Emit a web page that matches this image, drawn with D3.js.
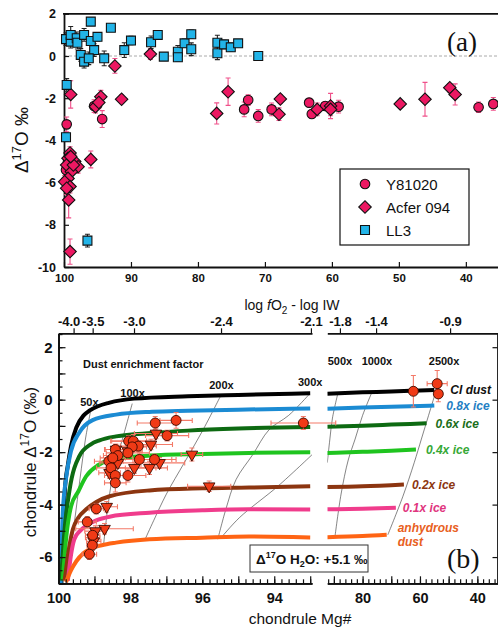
<!DOCTYPE html>
<html>
<head>
<meta charset="utf-8">
<script src="https://cdn.jsdelivr.net/npm/d3@7"></script>
<style>
body { margin: 0; background: #fff; }
svg { display: block; font-family: "Liberation Sans", Arial, sans-serif; }
</style>
</head>
<body>
<svg id="chart" width="498" height="628"></svg>
<script>
// ---------- panel (a): [Mg#, D17O, err]
const y81020 = [
  [99.6,-3.24,0.35],[95.5,-2.37,0.3],[94.3,-2.99,0.4],[73.1,-2.53,0.35],[72.5,-2.09,0.25],
  [71.0,-2.84,0.3],[69.0,-2.53,0.3],[63.4,-2.21,0.2],[63.0,-2.75,0.2],[61.0,-2.37,0.2],
  [59.0,-2.4,0.3],[38.1,-2.43,0.25],[35.9,-2.27,0.3],[99.7,-5.4,0.3],[99.4,-5.0,0.3]
];
const acfer094 = [
  [99.0,-1.82,0.65],[92.4,-0.47,0.35],[94.5,-1.93,0.3],[95.3,-2.4,0.3],[94.8,-2.2,0.3],
  [91.4,-2.05,0.2],[87.1,0.09,0.25],[77.2,-2.72,0.5],[75.5,-1.69,0.65],[67.7,-2.04,0.2],
  [67.9,-2.76,0.3],[62.2,-2.53,0.3],[60.2,-2.37,0.6],[60.2,-2.53,0.3],[49.8,-2.27,0.15],
  [46.1,-2.05,0.8],[42.4,-1.5,0.2],[41.6,-1.82,0.5],
  [99.1,-4.6,0.3],[99.4,-4.85,0.3],[98.4,-5.0,0.3],[97.9,-5.25,0.3],[99.6,-5.17,0.3],
  [98.9,-5.48,0.3],[99.4,-5.8,0.3],[99.9,-5.96,0.3],[99.1,-6.19,0.3],[99.6,-6.27,0.3],
  [99.3,-6.82,0.85],[96.0,-4.9,0.4],[99.1,-9.27,0.6],[98.6,-5.17,0.3],[99.0,-4.77,0.3]
];
const ll3 = [
  [99.7,0.8,0.3],[99.0,0.68,0.3],[99.0,1.0,0.4],[98.1,0.84,0.3],[98.0,0.63,0.3],[97.0,1.0,0.3],
  [96.0,1.63,0.15],[96.0,0.71,0.2],[95.5,0.28,0.3],[95.0,0.91,0.2],[97.5,0.05,0.3],[97.0,-0.27,0.3],
  [96.3,-0.11,0.3],[94.0,-0.11,0.35],[93.0,1.34,0.15],[91.0,0.28,0.35],[90.0,0.73,0.2],[87.0,0.65,0.3],
  [86.0,1.0,0.2],[85.1,-0.03,0.15],[83.0,0.2,0.3],[83.0,-0.06,0.2],[82.0,0.6,0.2],[81.0,1.03,0.2],
  [81.0,0.32,0.3],[77.1,0.63,0.35],[77.1,0.13,0.3],[76.1,0.55,0.2],[75.1,0.41,0.2],[74.0,0.6,0.15],
  [71.0,0.0,0.15],[99.6,-1.37,0.3],[99.7,-3.85,0.2],[96.5,-8.75,0.3]
];
const xTicksA = [100, 90, 80, 70, 60, 50, 40];
const yTicksA = [2, 0, -2, -4, -6, -8, -10];
const legendNames = ["Y81020", "Acfer 094", "LL3"];

// ---------- panel (b): chondrules [Mg#, D17O, xerr, yerr]
const chondCircles = [
  [97.31,-0.89,0.5,0.25],[96.73,-0.79,0.45,0.3],[96.98,-1.37,0.6,0.2],[98.05,-1.58,0.5,0.2],
  [97.92,-1.58,0.6,0.25],[97.78,-1.77,0.5,0.2],[97.95,-1.8,0.4,0.2],[98.42,-1.9,0.3,0.2],
  [98.07,-2.03,0.6,0.25],[98.35,-2.13,0.4,0.2],[98.6,-2.35,0.4,0.2],[98.49,-2.22,0.35,0.2],
  [97.75,-2.28,0.9,0.25],[97.33,-2.28,0.6,0.2],[98.54,-2.6,0.4,0.2],[98.42,-2.89,0.3,0.25],
  [98.07,-2.89,0.5,0.25],[98.42,-3.17,0.3,0.35],[98.95,-4.16,0.2,0.2],[99.2,-4.66,0.25,0.2],
  [99.05,-5.17,0.2,0.2],[99.06,-5.55,0.15,0.2],[99.14,-5.89,0.2,0.2],[93.19,-0.89,0.9,0.25]
];
const chondCirclesR = [[62.3,0.32,0,0.6],[54.0,0.61,3.5,0.5],[53.6,0.22,0,0.3]];
const chondTriangles = [
  [97.29,-1.29,0.6,0.2],[97.43,-1.71,0.6,0.2],[96.29,-2.09,0.3,0.25],[97.19,-2.41,0.7,0.2],
  [97.47,-2.6,0.5,0.25],[97.89,-2.6,0.6,0.2],[98.58,-2.79,0.3,0.2],[98.4,-1.9,0.3,0.2],
  [98.07,-1.96,0.4,0.2],[98.35,-2.41,0.5,0.2],[98.66,-4.08,0.3,0.2],[98.72,-4.92,0.8,0.2],
  [98.97,-5.01,0.3,0.2],[99.05,-5.26,0.2,0.2],[95.81,-3.3,0.6,0.2],[99.02,-5.4,0.2,0.2]
];

// model curves, left (Mg# 100-93) and right (Mg# 92-33) parts
const ciDustL = [[99.92,-7],[99.86,-4.8],[99.82,-3.4],[99.74,-2.5],[99.65,-1.75],[99.5,-1.05],[99.3,-0.6],
  [99.14,-0.42],[98.9,-0.25],[98.6,-0.12],[97.9,0.04],[96.4,0.13],[95,0.18],[93,0.24]];
const ciDustR = [[92.3,0.23],[80,0.28],[70,0.31],[60,0.35],[55,0.37]];
const ice08L = [[99.94,-7],[99.88,-4.3],[99.79,-3.0],[99.65,-1.95],[99.42,-1.25],[99.05,-0.78],[98.4,-0.57],
  [97.4,-0.46],[96.4,-0.42],[95,-0.38],[93,-0.34]];
const ice08R = [[92.3,-0.35],[80,-0.3],[70,-0.27],[60,-0.24],[55,-0.22]];
const ice06L = [[99.93,-6.9],[99.83,-4.94],[99.69,-3.42],[99.42,-2.15],[99.1,-1.7],[98.86,-1.55],[98.4,-1.4],
  [97.4,-1.27],[96.4,-1.18],[95,-1.1],[93,-1.04]];
const ice06R = [[92.3,-1.03],[80,-0.99],[70,-0.95],[57.7,-0.9]];
const ice04L = [[99.88,-6.84],[99.79,-5.32],[99.65,-4.06],[99.45,-3.5],[99.23,-2.92],[98.9,-2.5],[98.58,-2.3],
  [97.47,-2.13],[96,-2.07],[94.7,-2.03],[93,-2.0]];
const ice04R = [[92.3,-2.03],[80,-1.99],[70,-1.95],[61.4,-1.9]];
const ice02L = [[99.83,-6.9],[99.7,-5.6],[99.6,-4.94],[99.45,-4.5],[99.23,-4.18],[98.95,-3.9],[98.58,-3.68],
  [97.47,-3.46],[96,-3.38],[94.7,-3.35],[93,-3.3]];
const ice02R = [[92.3,-3.33],[80,-3.3],[65.6,-3.23]];
const ice01L = [[99.74,-6.9],[99.65,-5.9],[99.56,-5.32],[99.4,-5.0],[99.23,-4.8],[98.95,-4.6],[98.58,-4.46],
  [97.47,-4.31],[96,-4.22],[94.7,-4.18],[93,-4.19]];
const ice01R = [[92.3,-4.18],[80,-4.16],[68.4,-4.12]];
const anhydL = [[99.79,-6.95],[99.65,-6.5],[99.5,-6.15],[99.3,-5.85],[99.14,-5.7],[98.8,-5.55],[98.4,-5.45],
  [97.47,-5.32],[96,-5.26],[94.7,-5.22],[93,-5.25]];
const anhydR = [[92.3,-5.24],[80,-5.2],[71.6,-5.15]];

// dust enrichment iso-lines
const iso50 = [[99.1,-0.38],[99.25,-1.5],[99.4,-3.0],[99.55,-4.6],[99.68,-5.9],[99.75,-7]];
const iso100 = [[97.95,-0.15],[98.2,-1.4],[98.45,-2.6],[98.62,-4.0],[98.75,-5.6]];
const iso200 = [[95.5,0.12],[96.0,-1.2],[96.5,-2.4],[97.0,-3.6],[97.35,-4.6],[97.6,-5.35]];
const iso300 = [[93.03,0.2],[93.6,-0.6],[94.14,-1.14],[94.6,-2.1],[95.06,-3.04],[95.35,-4.2],[95.57,-5.32]];
const iso500L = [[92.95,-2.1],[93.9,-3.3],[94.97,-4.5],[95.5,-5.3]];
const iso500R = [[88.6,0.25],[90.5,-0.7],[91.4,-1.5],[92.3,-2.4]];
const iso1000 = [[76.8,0.27],[80,-0.6],[82.6,-1.5],[85,-2.3],[87.5,-3.6],[89.6,-5.2]];
const iso2500 = [[54.5,0.3],[57,-0.6],[59.5,-1.5],[62,-2.4],[66,-3.7],[71.2,-5.15]];
const isoLabels = [["50x",99.14,-0.08,"L"],["100x",97.94,0.27,"L"],["200x",95.47,0.57,"L"],
  ["300x",93.0,0.68,"L"],["500x",87.9,1.48,"R"],["1000x",75.0,1.48,"R"],["2500x",51.6,1.48,"R"]];

const fo2LabL = ["-4.0", "-3.5", "-3.0", "-2.4", "-2.1"];
const fo2MgL = [99.58, 99.05, 97.9, 95.48, 92.98];
const fo2LabR = ["-1.8", "-1.4", "-0.9"];
const fo2MgR = [87.9, 75.3, 49.5];
const xLabelsBL = [100, 98, 96, 94];
const xLabelsBR = [80, 60, 40];
const yLabelsB = [2, 0, -2, -4, -6];

const svg = d3.select("#chart");

function styleAxis(g, fs, bold) {
  g.select(".domain").attr("stroke", "#111").attr("stroke-width", 1.8);
  g.selectAll(".tick line").attr("stroke", "#111").attr("stroke-width", 1.2);
  g.selectAll(".tick text").attr("fill", "#111").style("font-size", fs + "px")
    .style("font-weight", bold ? "bold" : "normal").style("font-family", "'Liberation Sans', Arial, sans-serif");
}

function vBars(g, data, x, y, color, cap) {
  g.selectAll(null).data(data.filter(d => d[2] > 0)).join("path")
    .attr("d", d => {
      const cx = x(d[0]), y1 = y(d[1] + d[2]), y2 = y(d[1] - d[2]);
      return `M${cx - cap},${y1}h${2 * cap}M${cx},${y1}V${y2}M${cx - cap},${y2}h${2 * cap}`;
    })
    .attr("stroke", color).attr("stroke-width", 1.1).attr("fill", "none");
}

// ================= panel (a)
const xa = d3.scaleLinear().domain([100, 35.2]).range([64, 498]);
const ya = d3.scaleLinear().domain([-10, 2]).range([267, 13.8]);
const ga = svg.append("g");

ga.append("line").attr("x1", xa(100)).attr("x2", 498).attr("y1", ya(0)).attr("y2", ya(0))
  .attr("stroke", "#aaa").attr("stroke-width", 1).attr("stroke-dasharray", "3,2");
ga.append("line").attr("x1", xa(100) - 1).attr("x2", 498).attr("y1", ya(2)).attr("y2", ya(2))
  .attr("stroke", "#111").attr("stroke-width", 1.8);

const axA = ga.append("g").attr("transform", `translate(0,${ya(-10)})`)
  .call(d3.axisBottom(xa).tickValues(xTicksA).tickSize(-5).tickSizeOuter(0).tickPadding(7).tickFormat(d => d));
styleAxis(axA, 11.5, true);
const ayA = ga.append("g").attr("transform", `translate(${xa(100)},0)`)
  .call(d3.axisLeft(ya).tickValues(yTicksA).tickSize(-5).tickSizeOuter(0).tickPadding(8).tickFormat(d => String(d)));
styleAxis(ayA, 12.5, true);

const pink = "#ec1862", cyan = "#22b4e8";
vBars(ga, y81020, xa, ya, "#f0508a", 2.5);
vBars(ga, acfer094, xa, ya, "#f0508a", 2.5);
vBars(ga, ll3, xa, ya, "#222", 2.5);

const symCircle = d3.symbol().type(d3.symbolCircle).size(72);
const symSquare = d3.symbol().type(d3.symbolSquare).size(80);
const symDiamond = d3.symbol().type(d3.symbolSquare).size(78);

ga.selectAll(null).data(y81020).join("path").attr("d", symCircle)
  .attr("transform", d => `translate(${xa(d[0])},${ya(d[1])})`)
  .attr("fill", pink).attr("stroke", "#111").attr("stroke-width", 1.1);
ga.selectAll(null).data(acfer094).join("path").attr("d", symDiamond)
  .attr("transform", d => `translate(${xa(d[0])},${ya(d[1])}) rotate(45)`)
  .attr("fill", pink).attr("stroke", "#111").attr("stroke-width", 1.1);
ga.selectAll(null).data(ll3).join("path").attr("d", symSquare)
  .attr("transform", d => `translate(${xa(d[0])},${ya(d[1])})`)
  .attr("fill", cyan).attr("stroke", "#111").attr("stroke-width", 1.1);

ga.append("text").attr("transform", "translate(28,140) rotate(-90)").attr("text-anchor", "middle")
  .style("font-size", "19px").attr("fill", "#111")
  .call(t => {
    t.append("tspan").text("\u0394");
    t.append("tspan").attr("dy", -7).style("font-size", "13px").text("17");
    t.append("tspan").attr("dy", 7).text("O \u2030");
  });
ga.append("text").attr("x", 447).attr("y", 51).style("font-family", "'Liberation Serif', serif")
  .style("font-size", "27px").attr("fill", "#111").text("(a)");

// legend
const leg = ga.append("g");
leg.append("rect").attr("x", 340).attr("y", 169).attr("width", 129).attr("height", 76)
  .attr("fill", "#fff").attr("stroke", "#111").attr("stroke-width", 1.2);
const legSyms = [[symCircle, pink, 0], [symDiamond, pink, 45], [symSquare, cyan, 0]];
legendNames.forEach((n, i) => {
  const yy = 184 + i * 23;
  leg.append("path").attr("d", legSyms[i][0]).attr("transform", `translate(365,${yy}) rotate(${legSyms[i][2]})`)
    .attr("fill", legSyms[i][1]).attr("stroke", "#111").attr("stroke-width", 1.1);
  leg.append("text").attr("x", 386).attr("y", yy + 5.5).style("font-size", "15px").attr("fill", "#111").text(n);
});

// ================= panel (b)
const xbL = d3.scaleLinear().domain([100, 92.95]).range([58.5, 312]);
const xbR = d3.scaleLinear().domain([92.3, 32.8]).range([327.3, 498]);
const yb = d3.scaleLinear().domain([-7, 2.53]).range([583.3, 333.3]);
const gb = svg.append("g");

const defs = svg.append("defs");
defs.append("clipPath").attr("id", "clipL").append("rect")
  .attr("x", xbL(100)).attr("y", yb(2.53)).attr("width", xbL(92.95) - xbL(100)).attr("height", yb(-7) - yb(2.53));
defs.append("clipPath").attr("id", "clipR").append("rect")
  .attr("x", xbR(92.3)).attr("y", yb(2.53)).attr("width", xbR(32.8) - xbR(92.3)).attr("height", yb(-7) - yb(2.53));

const gL = gb.append("g").attr("clip-path", "url(#clipL)");
const gR = gb.append("g").attr("clip-path", "url(#clipR)");

// iso-lines
const isoLine = x => d3.line().x(d => x(d[0])).y(d => yb(d[1])).curve(d3.curveCatmullRom);
[iso50, iso100, iso200, iso300, iso500L].forEach(a =>
  gL.append("path").attr("d", isoLine(xbL)(a)).attr("fill", "none").attr("stroke", "#333").attr("stroke-width", 0.6));
[iso500R, iso1000, iso2500].forEach(a =>
  gR.append("path").attr("d", isoLine(xbR)(a)).attr("fill", "none").attr("stroke", "#333").attr("stroke-width", 0.6));

const curves = [
  { name: "CI dust", color: "#000", tcolor: "#111", L: ciDustL, R: ciDustR, dx: 16 },
  { name: "0.8x ice", color: "#1b8bd3", tcolor: "#1f7fc4", L: ice08L, R: ice08R, dx: 12 },
  { name: "0.6x ice", color: "#0d6a12", tcolor: "#1a6e1a", L: ice06L, R: ice06R, dx: 9 },
  { name: "0.4x ice", color: "#1fc41f", tcolor: "#36a836", L: ice04L, R: ice04R, dx: 10 },
  { name: "0.2x ice", color: "#8c3510", tcolor: "#8c3510", L: ice02L, R: ice02R, dx: 8 },
  { name: "0.1x ice", color: "#f03c8c", tcolor: "#e0357e", L: ice01L, R: ice01R, dx: 7 },
  { name: "anhydrous", color: "#ff6414", tcolor: "#e8601e", L: anhydL, R: anhydR, dx: 11 }
];
const cLine = x => d3.line().x(d => x(d[0])).y(d => yb(d[1])).curve(d3.curveMonotoneX);
curves.forEach(c => {
  gL.append("path").attr("d", cLine(xbL)(c.L)).attr("fill", "none").attr("stroke", c.color).attr("stroke-width", 4);
  gR.append("path").attr("d", cLine(xbR)(c.R)).attr("fill", "none").attr("stroke", c.color).attr("stroke-width", 4);
  const e = c.R[c.R.length - 1];
  const t = gb.append("text").attr("x", xbR(e[0]) + c.dx).attr("y", yb(e[1]) + 4.5)
    .style("font-size", "12px").style("font-weight", "bold").style("font-style", "italic").attr("fill", c.tcolor);
  if (c.name === "anhydrous") {
    t.attr("y", yb(e[1]) - 3).text("anhydrous");
    gb.append("text").attr("x", xbR(e[0]) + c.dx).attr("y", yb(e[1]) + 11)
      .style("font-size", "12px").style("font-weight", "bold").style("font-style", "italic").attr("fill", c.tcolor).text("dust");
  } else t.text(c.name);
});

// iso-line labels
gb.selectAll(null).data(isoLabels).join("text")
  .attr("x", d => (d[3] === "L" ? xbL : xbR)(d[1])).attr("y", d => yb(d[2]) + 4)
  .attr("text-anchor", "middle").style("font-size", "11px").style("font-weight", "bold").attr("fill", "#111")
  .text(d => d[0]);
gb.append("text").attr("x", 83).attr("y", 368).style("font-size", "11px").style("font-weight", "bold")
  .attr("fill", "#111").text("Dust enrichment factor");

// chondrule error bars
const errCol = "#f37a68";
function xyBars(g, data, x, cap) {
  g.selectAll(null).data(data).join("path")
    .attr("d", d => {
      const cx = x(d[0]), cy = yb(d[1]);
      let p = "";
      if (d[2] > 0) {
        const x1 = x(d[0] + d[2]), x2 = x(d[0] - d[2]);
        p += `M${x1},${cy}H${x2}M${x1},${cy - cap}v${2 * cap}M${x2},${cy - cap}v${2 * cap}`;
      }
      if (d[3] > 0) {
        const y1 = yb(d[1] + d[3]), y2 = yb(d[1] - d[3]);
        p += `M${cx},${y1}V${y2}M${cx - cap},${y1}h${2 * cap}M${cx - cap},${y2}h${2 * cap}`;
      }
      return p;
    })
    .attr("stroke", errCol).attr("stroke-width", 1.1).attr("fill", "none");
}
xyBars(gb, chondCircles.concat(chondTriangles), xbL, 2.5);
xyBars(gb, chondCirclesR, xbR, 2.5);

const red = "#f03a16";
const symC = d3.symbol().type(d3.symbolCircle).size(78);
const symT = d3.symbol().type(d3.symbolTriangle).size(58);
gb.selectAll(null).data(chondTriangles).join("path").attr("d", symT)
  .attr("transform", d => `translate(${xbL(d[0])},${yb(d[1])}) rotate(180)`)
  .attr("fill", red).attr("stroke", "#3a0a00").attr("stroke-width", 0.9);
gb.selectAll(null).data(chondCircles).join("path").attr("d", symC)
  .attr("transform", d => `translate(${xbL(d[0])},${yb(d[1])})`)
  .attr("fill", red).attr("stroke", "#3a0a00").attr("stroke-width", 0.9);
gb.selectAll(null).data(chondCirclesR).join("path").attr("d", symC)
  .attr("transform", d => `translate(${xbR(d[0])},${yb(d[1])})`)
  .attr("fill", red).attr("stroke", "#3a0a00").attr("stroke-width", 0.9);

// axes panel b
const y0 = yb(-7), yTop = yb(2.53);
function bottomAxis(x, minor, major, labels) {
  const g1 = gb.append("g").attr("transform", `translate(0,${y0})`)
    .call(d3.axisBottom(x).tickValues(minor).tickSize(-4).tickSizeOuter(0).tickFormat(""));
  styleAxis(g1, 14, true);
  const g2 = gb.append("g").attr("transform", `translate(0,${y0})`)
    .call(d3.axisBottom(x).tickValues(major).tickSize(-7).tickSizeOuter(0).tickPadding(9)
      .tickFormat(d => labels.includes(d) ? String(d) : ""));
  styleAxis(g2, 14.5, true);
}
bottomAxis(xbL, d3.range(100, 92.9, -0.2), d3.range(100, 92.9, -1), xLabelsBL);
bottomAxis(xbR, d3.range(92, 33, -2), d3.range(90, 33, -10), xLabelsBR);

function topAxis(x, vals, labs) {
  const g = gb.append("g").attr("transform", `translate(0,${yTop})`)
    .call(d3.axisTop(x).tickValues(vals).tickSize(5).tickSizeOuter(0).tickPadding(2)
      .tickFormat((d, i) => labs[i]));
  styleAxis(g, 13, true);
  return g;
}
const tL = topAxis(xbL, fo2MgL, fo2LabL);
tL.selectAll(".tick text").filter((d, i) => i === 0).attr("dx", -5);
topAxis(xbR, fo2MgR, fo2LabR);

const ayB1 = gb.append("g").attr("transform", `translate(${xbL(100)},0)`)
  .call(d3.axisLeft(yb).tickValues(d3.range(-7, 2.6, 0.5)).tickSize(-4).tickSizeOuter(0).tickFormat(""));
styleAxis(ayB1, 15, true);
const ayB2 = gb.append("g").attr("transform", `translate(${xbL(100)},0)`)
  .call(d3.axisLeft(yb).tickValues(d3.range(-7, 2.6, 1)).tickSize(-7).tickSizeOuter(0).tickPadding(6)
    .tickFormat(d => yLabelsB.includes(d) ? String(d) : ""));
styleAxis(ayB2, 15, true);
const ayBR = gb.append("g").attr("transform", `translate(497.5,0)`)
  .call(d3.axisRight(yb).tickValues(d3.range(-6, 2.6, 2)).tickSize(-5).tickSizeOuter(0).tickFormat(""));
styleAxis(ayBR, 12, false);

// titles panel b
gb.append("text").attr("x", 292).attr("y", 310).attr("text-anchor", "middle")
  .style("font-size", "14px").attr("fill", "#111")
  .call(t => {
    t.append("tspan").text("log ");
    t.append("tspan").style("font-style", "italic").text("f");
    t.append("tspan").text("O");
    t.append("tspan").attr("dy", 4).style("font-size", "10px").text("2");
    t.append("tspan").attr("dy", -4).text(" - log IW");
  });
gb.append("text").attr("x", 300).attr("y", 624).attr("text-anchor", "middle")
  .style("font-size", "15.5px").attr("fill", "#111").text("chondrule Mg#");
gb.append("text").attr("transform", "translate(36,462) rotate(-90)").attr("text-anchor", "middle")
  .style("font-size", "17px").attr("fill", "#111")
  .call(t => {
    t.append("tspan").text("chondrule \u0394");
    t.append("tspan").attr("dy", -7).style("font-size", "12px").text("17");
    t.append("tspan").attr("dy", 7).text("O (\u2030)");
  });

// H2O box
gb.append("rect").attr("x", 250).attr("y", 545).attr("width", 118).attr("height", 27)
  .attr("fill", "#fff").attr("stroke", "#333").attr("stroke-width", 1);
gb.append("text").attr("x", 256).attr("y", 564).style("font-size", "13.5px").style("font-weight", "bold")
  .attr("fill", "#111")
  .call(t => {
    t.append("tspan").text("\u0394");
    t.append("tspan").attr("dy", -6).style("font-size", "9px").text("17");
    t.append("tspan").attr("dy", 6).text("O H");
    t.append("tspan").attr("dy", 3).style("font-size", "9px").text("2");
    t.append("tspan").attr("dy", -3).text("O: +5.1 \u2030");
  });
gb.append("text").attr("x", 447).attr("y", 568).style("font-family", "'Liberation Serif', serif")
  .style("font-size", "28px").attr("fill", "#111").text("(b)");
</script>
</body>
</html>
